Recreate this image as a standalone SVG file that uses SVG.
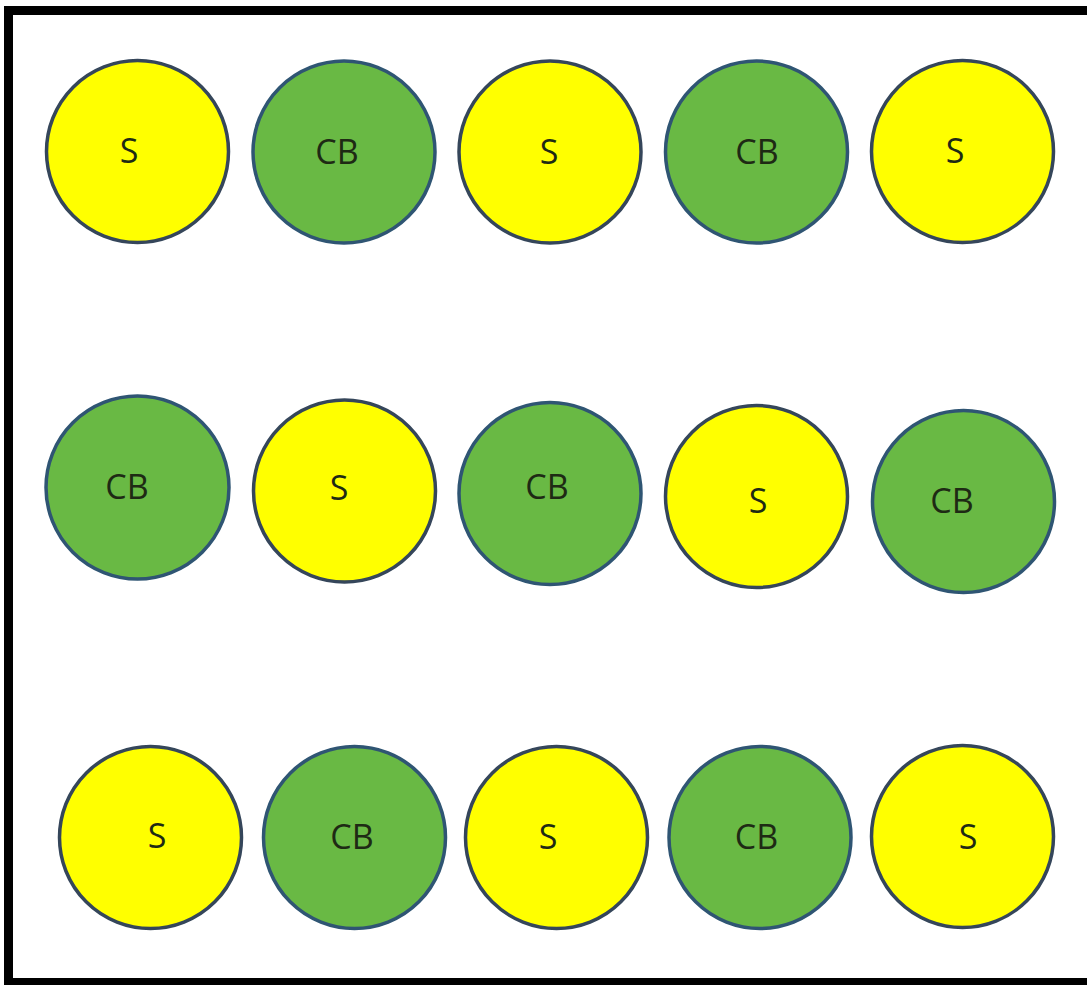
<svg xmlns="http://www.w3.org/2000/svg" width="1087" height="985" viewBox="0 0 1087 985">
<style>
.s{fill:#ffff00;stroke:#35465a;stroke-width:3.5}
.cb{fill:#69b944;stroke:#2f5573;stroke-width:3.5}
text{font-family:"Open Sans","Liberation Sans",sans-serif;font-size:34px;fill:#1e2a14;text-anchor:middle;dominant-baseline:central}
</style>
<rect x="0" y="0" width="1087" height="985" fill="#ffffff"/>
<g id="frame" fill="#000000">
<rect x="4" y="6" width="1083" height="9"/>
<rect x="4" y="6" width="9" height="979"/>
<rect x="4" y="978" width="1083" height="7"/>
</g>
<g id="connectors"></g>
<g id="r1c1"><circle class="s" cx="137.5" cy="151.5" r="91"/><text x="129" y="150">S</text></g>
<g id="r1c2"><circle class="cb" cx="344" cy="152" r="91"/><text x="337" y="151">CB</text></g>
<g id="r1c3"><circle class="s" cx="550" cy="152" r="91"/><text x="549" y="151">S</text></g>
<g id="r1c4"><circle class="cb" cx="756.5" cy="152" r="91"/><text x="757" y="151">CB</text></g>
<g id="r1c5"><circle class="s" cx="962.5" cy="151.5" r="91"/><text x="955" y="150">S</text></g>
<g id="r2c1"><circle class="cb" cx="137.5" cy="487.5" r="91.5"/><text x="127" y="486">CB</text></g>
<g id="r2c2"><circle class="s" cx="344.5" cy="491" r="91"/><text x="339" y="487">S</text></g>
<g id="r2c3"><circle class="cb" cx="550" cy="493.5" r="91"/><text x="547" y="486">CB</text></g>
<g id="r2c4"><circle class="s" cx="756.5" cy="496.5" r="91"/><text x="758" y="500">S</text></g>
<g id="r2c5"><circle class="cb" cx="963.5" cy="501.5" r="91"/><text x="952" y="500">CB</text></g>
<g id="r3c1"><circle class="s" cx="150.5" cy="837.5" r="91"/><text x="157" y="835">S</text></g>
<g id="r3c2"><circle class="cb" cx="354.5" cy="837.5" r="91"/><text x="352" y="836">CB</text></g>
<g id="r3c3"><circle class="s" cx="556.5" cy="837.5" r="91"/><text x="548" y="836">S</text></g>
<g id="r3c4"><circle class="cb" cx="760" cy="837.5" r="91"/><text x="756.5" y="836">CB</text></g>
<g id="r3c5"><circle class="s" cx="962.5" cy="836.5" r="91"/><text x="968" y="836">S</text></g>
</svg>
